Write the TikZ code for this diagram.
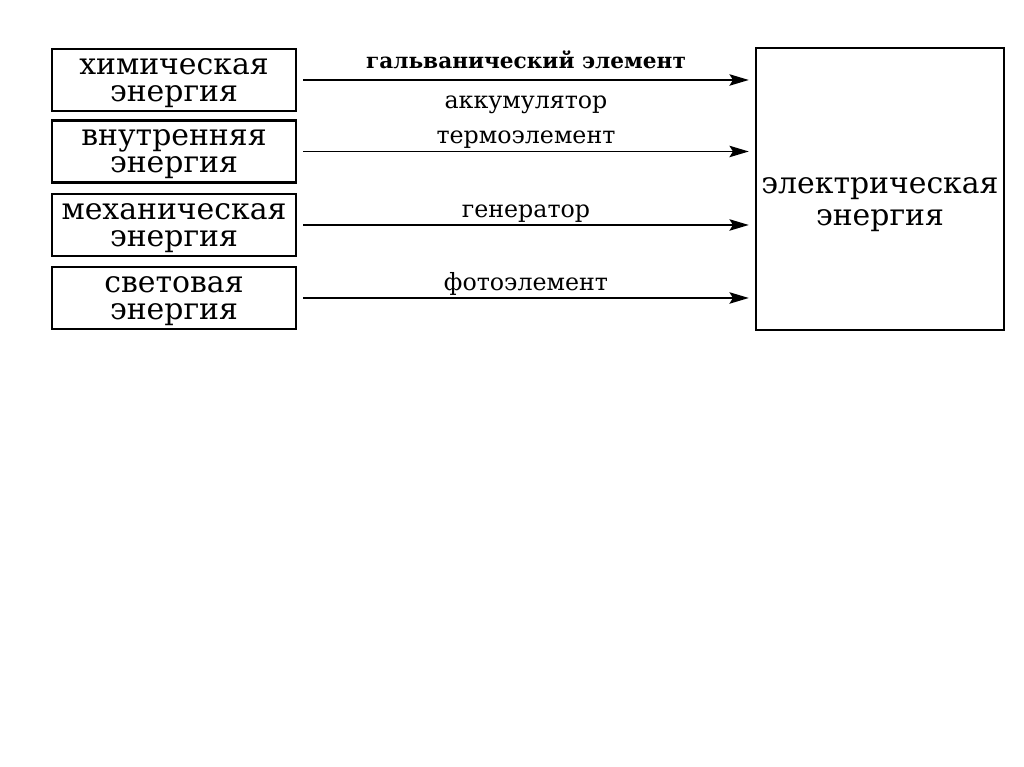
\documentclass[tikz,border=0pt]{standalone}
\usepackage{fontspec}
\setmainfont{DejaVu Serif}
\usetikzlibrary{arrows.meta}
\tikzset{
  boxtext/.style={font=\fontsize{17}{15.4}\selectfont,align=center},
  srcbox/.style={boxtext,draw=black,line width=1.4pt,minimum width=4.88cm,minimum height=1.24cm,inner sep=0pt,text depth=-6pt},
  elecbox/.style={draw=black,line width=1.4pt,minimum width=4.96cm,minimum height=5.64cm,inner sep=0pt},
  lbl/.style={font=\fontsize{13.5}{15}\selectfont,inner sep=1pt},
  lblbold/.style={font=\bfseries\fontsize{12.3}{14}\selectfont,inner sep=3pt},
  arr/.style={-{Stealth[length=11pt,width=6.5pt,inset=2pt]},draw=black,line width=1pt,shorten <=3.4pt,shorten >=3.4pt}
}

\begin{document}
\begin{tikzpicture}[x=1cm,y=1cm]
\path[use as bounding box,fill=white] (0,0) rectangle (20.48,15.34);
% sources
\node[srcbox] (chem) at (3.48,13.74) {химическая\\энергия};
\node[srcbox] (inner) at (3.48,12.31) {внутренняя\\энергия};
\node[srcbox] (mech) at (3.48,10.84) {механическая\\энергия};
\node[srcbox] (light) at (3.48,9.38) {световая\\энергия};
% target
\node[elecbox,label={[boxtext,yshift=-9pt]center:{электрическая\\[3pt]энергия}}] (elec) at (17.6,11.56) {};
% converters
\draw[arr] (chem.east) -- node[lblbold,above=3pt]{гальванический элемент} node[lbl,below=7.5pt]{аккумулятор} (chem.east -| elec.west);
\draw[arr] (inner.east) -- node[lbl,above]{термоэлемент} (inner.east -| elec.west);
\draw[arr] (mech.east) -- node[lbl,above]{генератор} (mech.east -| elec.west);
\draw[arr] (light.east) -- node[lbl,above]{фотоэлемент} (light.east -| elec.west);
\end{tikzpicture}
\end{document}
